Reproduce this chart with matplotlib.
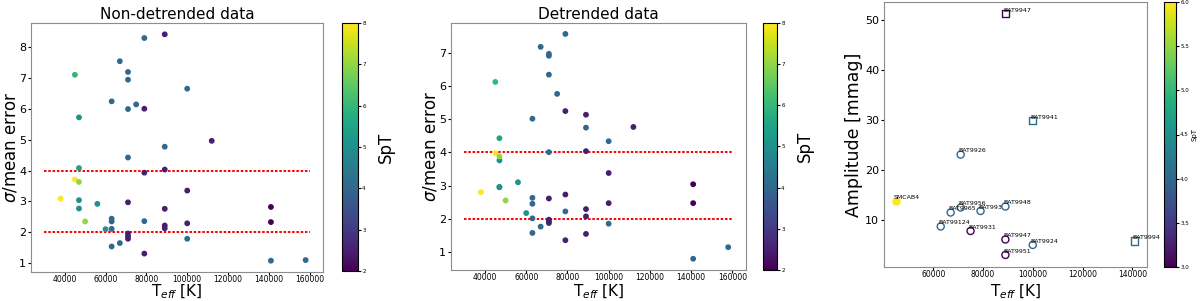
import numpy as np
import matplotlib
matplotlib.use('Agg')
import matplotlib.pyplot as plt
from matplotlib import cm, colors
from matplotlib.transforms import blended_transform_factory

# stars: effective temperature, spectral subtype, sigma/mean error ratio
teff = [38000, 45000, 45000, 47000, 47000, 47000, 47000, 47000, 50000, 56000, 60000,
        63000, 63000, 63000, 63000, 63000, 67000, 67000,
        71000, 71000, 71000, 71000, 71000, 71000, 71000, 71000, 75000,
        79000, 79000, 79000, 79000, 79000,
        89000, 89000, 89000, 89000, 89000, 89000,
        100000, 100000, 100000, 100000, 112000, 141000, 141000, 141000, 158000]
spt = [8, 6, 8, 5, 5.5, 7, 5, 5, 7, 5, 5,
       4, 4, 4, 4, 4, 4, 4,
       4, 4, 4, 4, 2.5, 2.5, 2.5, 2.5, 4,
       4, 4, 2.5, 2.5, 2.5,
       4, 2.5, 2.5, 2.5, 2.5, 2.5,
       4, 4, 2.5, 2.5, 2.5, 2, 2, 4, 4]
ratio_raw = [3.09, 7.10, 3.71, 5.72, 4.08, 3.63, 3.04, 2.77, 2.35, 2.92, 2.10,
             6.24, 2.44, 2.35, 2.11, 1.54, 7.54, 1.65,
             7.19, 6.94, 5.99, 4.42, 2.97, 1.96, 1.87, 1.79, 6.14,
             8.29, 2.36, 6.00, 3.93, 1.31,
             4.77, 8.41, 4.03, 2.76, 2.22, 2.13,
             6.65, 1.79, 3.35, 2.29, 4.96, 2.82, 2.33, 1.08, 1.10]
ratio_det = [2.80, 6.13, 3.98, 3.76, 4.43, 3.88, 2.96, 2.95, 2.55, 3.10, 2.17,
             5.02, 2.63, 2.45, 2.01, 1.57, 7.19, 1.76,
             6.98, 6.92, 6.35, 4.01, 2.61, 1.97, 1.92, 1.87, 5.77,
             7.58, 2.22, 5.25, 2.73, 1.35,
             4.75, 5.14, 4.04, 2.29, 2.07, 1.54,
             4.34, 1.85, 3.38, 2.47, 4.77, 3.04, 2.47, 0.79, 1.14]
thresholds = [2, 4]

# variable stars: amplitude
names = ['SMCAB4', 'BAT9956', 'BAT9965', 'BAT993', 'BAT9948', 'BAT99124', 'BAT9931',
         'BAT9947', 'BAT9924', 'BAT9951', 'BAT9994', 'BAT9926', 'BAT9941', 'BAT9947']
teff_var = [45000, 71000, 67000, 79000, 89000, 63000, 75000,
            89000, 100000, 89000, 141000, 71000, 100000, 89000]
amp = [13.8, 12.5, 11.5, 11.8, 12.7, 8.7, 7.8, 6.1, 5.0, 3.0, 5.8, 23.1, 29.9, 51.3]
spt_var = [6, 4, 4, 4, 4, 4, 3, 3, 4, 3, 4, 4, 4, 3]
marks = ['o', 'o', 'o', 'o', 'o', 'o', 'o', 'o', 'o', 'o', 's', 'o', 's', 's']
filled = [True] + [False] * 13


def px(l, r, t, b):
    return [l / 1200, 1 - b / 301, (r - l) / 1200, (b - t) / 301]


fig = plt.figure(figsize=(12, 3.01), dpi=100)
cmap = plt.get_cmap('viridis')


def style_axes(ax, ylab, yfs, ylx):
    ax.set_xlabel(r'T$_{eff}$ [K]', fontsize=11, va='top')
    ax.set_ylabel(ylab, fontsize=yfs)
    # x label top just under the tick labels, in figure pixels
    tr = blended_transform_factory(ax.transAxes, fig.transFigure)
    ax.xaxis.set_label_coords(0.5, 1 - 282.5 / 301, transform=tr)
    ax.yaxis.set_label_coords(ylx, 0.5)
    ax.tick_params(axis='x', labelsize=5.5, pad=0.5, length=2)
    ax.tick_params(axis='y', labelsize=8, pad=1, length=2.5)
    for s in ax.spines.values():
        s.set_color('0.55')


def ratio_panel(ax, cax, y, title):
    sc = ax.scatter(teff, y, c=spt, cmap='viridis', vmin=2, vmax=8, s=10, zorder=3)
    for t in thresholds:
        ax.hlines(t, 30000, 160000, colors='red', linestyles=(0, (1.3, 0.9)), lw=1.4)
    ax.set_title(title, fontsize=11, pad=3)
    ax.set_xticks([40000, 60000, 80000, 100000, 120000, 140000, 160000])
    style_axes(ax, r'$\sigma$/mean error', 12, -0.04)
    cb = fig.colorbar(sc, cax=cax)
    cb.ax.tick_params(labelsize=4, length=2, pad=1)
    cb.set_label('SpT', fontsize=12, labelpad=8)


ax1 = fig.add_axes(px(31, 323, 23, 272))
cax1 = fig.add_axes(px(342, 358, 23, 271))
ratio_panel(ax1, cax1, ratio_raw, 'Non-detrended data')

ax2 = fig.add_axes(px(451, 745.7, 22.7, 270))
cax2 = fig.add_axes(px(763, 777, 22.7, 270))
ratio_panel(ax2, cax2, ratio_det, 'Detrended data')

# amplitude panel
ax3 = fig.add_axes(px(884, 1146.7, 1.7, 267))
cax3 = fig.add_axes(px(1164, 1176, 2, 267))
norm3 = colors.Normalize(vmin=3, vmax=6)
for i in range(len(names)):
    col = cmap(norm3(spt_var[i]))
    ax3.scatter(teff_var[i], amp[i], marker=marks[i], s=26, linewidths=1,
                facecolors=col if filled[i] else 'none', edgecolors=col, zorder=3)
    ax3.annotate(names[i], (teff_var[i], amp[i]), fontsize=4.5,
                 xytext=(-1.5, 1.5), textcoords='offset points')
ax3.set_xticks([60000, 80000, 100000, 120000, 140000])
ax3.set_yticks([10, 20, 30, 40, 50])
style_axes(ax3, 'Amplitude [mmag]', 12.5, -0.08)
cb3 = fig.colorbar(cm.ScalarMappable(norm=norm3, cmap=cmap), cax=cax3)
cb3.set_ticks([3.0, 3.5, 4.0, 4.5, 5.0, 5.5, 6.0])
cb3.ax.tick_params(labelsize=4, length=2, pad=1)
cb3.set_label('SpT', fontsize=5, labelpad=2)

fig.savefig('out.png', dpi=100)
